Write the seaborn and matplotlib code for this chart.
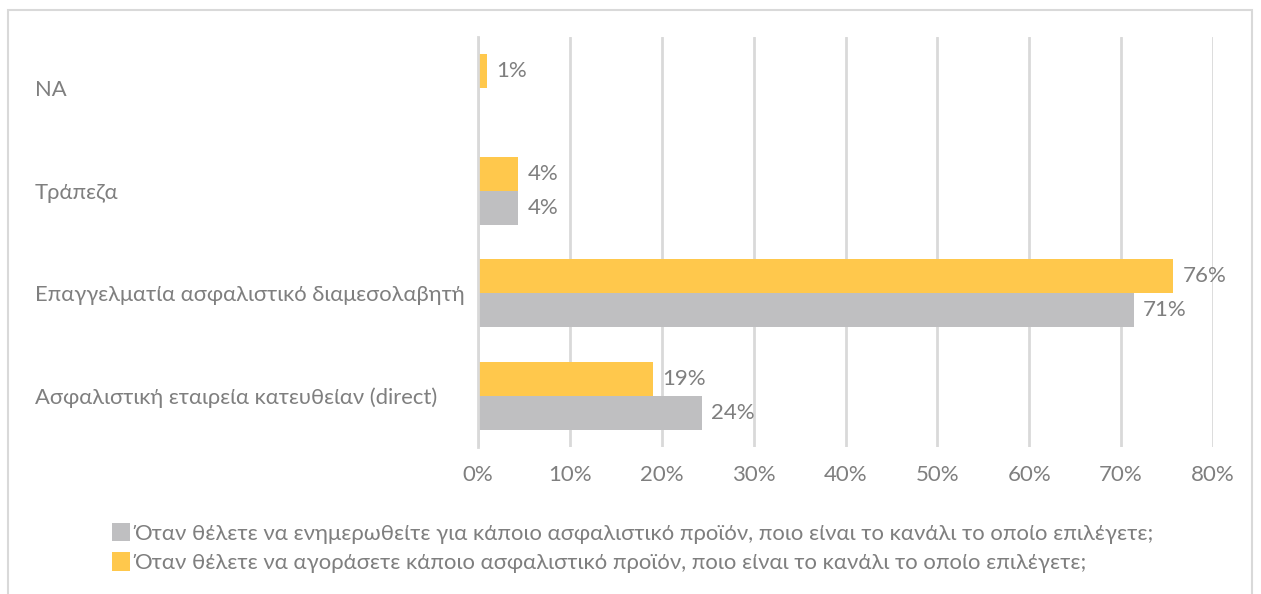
import matplotlib
matplotlib.use("Agg")
import matplotlib.pyplot as plt
from matplotlib import font_manager
from matplotlib.patches import Rectangle, Patch
import seaborn as sns
import pandas as pd
import numpy as np

categories = ["NA", "Τράπεζα", "Επαγγελματία ασφαλιστικό διαμεσολαβητή",
              "Ασφαλιστική εταιρεία κατευθείαν (direct)"]
series_buy = "Όταν θέλετε να αγοράσετε κάποιο ασφαλιστικό προϊόν, ποιο είναι το κανάλι το οποίο επιλέγετε;"
series_info = "Όταν θέλετε να ενημερωθείτε για κάποιο ασφαλιστικό προϊόν, ποιο είναι το κανάλι το οποίο επιλέγετε;"
buy_values = [1.0, 4.4, 75.7, 19.1]
info_values = [np.nan, 4.4, 71.4, 24.4]
x_ticks = [0, 10, 20, 30, 40, 50, 60, 70, 80]
x_tick_labels = ["0%", "10%", "20%", "30%", "40%", "50%", "60%", "70%", "80%"]

YELLOW = "#FFC84C"
GRAY = "#BFBFC1"
TEXT = "#7F7F7F"
GRID = "#D9D9D9"

sns.set_theme(style="white")
names = {f.name for f in font_manager.fontManager.ttflist}
main_font = "Lato" if "Lato" in names else "DejaVu Sans"
narrow_font = "Liberation Sans Narrow" if "Liberation Sans Narrow" in names else main_font
plt.rcParams["font.family"] = [main_font, "DejaVu Sans"]

df = pd.DataFrame({
    "category": categories * 2,
    "series": [series_buy] * len(categories) + [series_info] * len(categories),
    "value": buy_values + info_values,
})

fig = plt.figure(figsize=(12.61, 5.94), dpi=100)
fig.patches.append(Rectangle((8 / 1261, -0.05), (1252 - 8) / 1261, 1.05 - 10 / 594,
                             transform=fig.transFigure, fill=False,
                             edgecolor="#D9D9D9", linewidth=1.5))
ax = fig.add_axes([478 / 1261, 1 - 447 / 594, (1213 - 478) / 1261, (447 - 37) / 594])

sns.barplot(data=df, y="category", x="value", hue="series", order=categories,
            hue_order=[series_buy, series_info], palette=[YELLOW, GRAY],
            orient="h", width=0.66, ax=ax, legend=False, saturation=1,
            linewidth=0)

for cont in ax.containers:
    labels = ["" if np.isnan(v) else f"{v:.0f}%" for v in cont.datavalues]
    ax.bar_label(cont, labels=labels, padding=6.5, color=TEXT, fontsize=16,
                 family=[main_font, "DejaVu Sans"])

ax.set_xlim(0, 80)
ax.set_ylim(3.5, -0.5)
ax.set_xticks(x_ticks)
ax.set_xticklabels(x_tick_labels)
ax.set_xlabel("")
ax.set_ylabel("")
ax.grid(axis="x", color=GRID, linewidth=2)
ax.set_axisbelow(True)
for s in ["top", "right", "bottom"]:
    ax.spines[s].set_visible(False)
ax.spines["left"].set_color(GRID)
ax.spines["left"].set_linewidth(2)
ax.tick_params(axis="x", length=0, pad=13, labelsize=16, labelcolor=TEXT)
ax.tick_params(axis="y", length=0, pad=(478 - 35) * 72 / 100, labelsize=15.8, labelcolor=TEXT)
for lab in ax.get_yticklabels():
    lab.set_horizontalalignment("left")

leg_handles = [Patch(facecolor=GRAY, edgecolor="none"), Patch(facecolor=YELLOW, edgecolor="none")]
leg = fig.legend(leg_handles, [series_info, series_buy],
                 loc="upper left", bbox_to_anchor=(112 / 1261, 1 - 523 / 594),
                 frameon=False, handlelength=0.82, handleheight=0.9,
                 handletextpad=0.18, labelspacing=0.38, borderaxespad=0,
                 borderpad=0,
                 prop={"family": [narrow_font, "DejaVu Sans"], "size": 15.9})
for t in leg.get_texts():
    t.set_color(TEXT)

fig.savefig("out.png", dpi=100)
